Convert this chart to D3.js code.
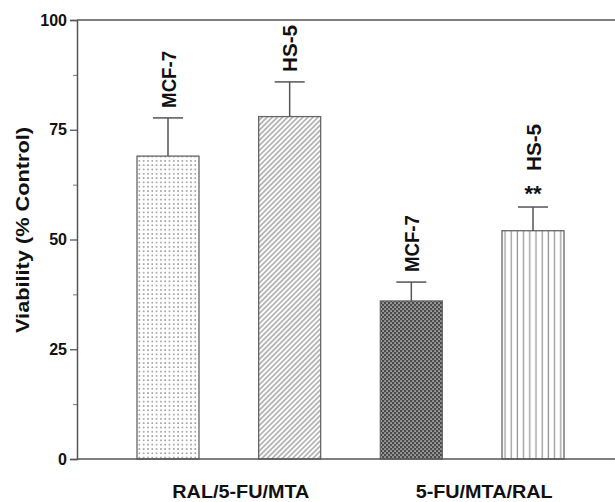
<!DOCTYPE html>
<html>
<head>
<meta charset="utf-8">
<script src="https://cdn.jsdelivr.net/npm/d3@7"></script>
<style>
  body { margin: 0; background: #fff; }
  text { font-family: "Liberation Sans", Arial, sans-serif; font-weight: bold; fill: #111; }
</style>
</head>
<body>
<svg id="chart" width="615" height="502"></svg>
<script>
// values
var groups = ["RAL/5-FU/MTA", "5-FU/MTA/RAL"];
var cells = ["MCF-7", "HS-5", "MCF-7", "HS-5"];
var means = [69, 78, 36, 52];
var errs = [8.7, 7.9, 4.3, 5.4];
var sig = ["", "", "", "**"];
var fills = ["dots", "diag", "checker", "vlines"];
var yTicks = [0, 25, 50, 75, 100];

var svg = d3.select("#chart");

var y = d3.scaleLinear().domain([0, 100]).range([459, 20]);
var x = d3.scalePoint().domain(d3.range(cells.length)).range([168, 533]);
var bw = 62;

// fill patterns
var defs = svg.append("defs");

var p = defs.append("pattern").attr("id", "dots").attr("patternUnits", "userSpaceOnUse")
  .attr("width", 4.3).attr("height", 4.3);
p.append("rect").attr("x", 1).attr("y", 1).attr("width", 1.6).attr("height", 1.6).attr("fill", "#999");

p = defs.append("pattern").attr("id", "diag").attr("patternUnits", "userSpaceOnUse")
  .attr("width", 3.6).attr("height", 10).attr("patternTransform", "rotate(45)");
p.append("line").attr("x1", 1.8).attr("x2", 1.8).attr("y1", 0).attr("y2", 10)
  .attr("stroke", "#999").attr("stroke-width", 1.3);

p = defs.append("pattern").attr("id", "checker").attr("patternUnits", "userSpaceOnUse")
  .attr("width", 4).attr("height", 4);
p.append("rect").attr("width", 4).attr("height", 4).attr("fill", "#4a4a4a");
p.append("rect").attr("x", 0.3).attr("y", 0.3).attr("width", 1.5).attr("height", 1.5).attr("fill", "#c8c8c8");
p.append("rect").attr("x", 2.3).attr("y", 2.3).attr("width", 1.5).attr("height", 1.5).attr("fill", "#c8c8c8");

p = defs.append("pattern").attr("id", "vlines").attr("patternUnits", "userSpaceOnUse")
  .attr("width", 6.2).attr("height", 10).attr("x", 502);
p.append("line").attr("x1", 3).attr("x2", 3).attr("y1", 0).attr("y2", 10)
  .attr("stroke", "#999").attr("stroke-width", 1.3);

// frame line on top
svg.append("line").attr("x1", 77).attr("x2", 615).attr("y1", y(100)).attr("y2", y(100))
  .attr("stroke", "#555").attr("stroke-width", 1.5);

// bars
var bars = svg.append("g").selectAll("g").data(means).enter().append("g");

bars.append("rect")
  .attr("x", function(d, i) { return x(i) - bw / 2; })
  .attr("y", function(d) { return y(d); })
  .attr("width", bw)
  .attr("height", function(d) { return y(0) - y(d); })
  .attr("fill", function(d, i) { return "url(#" + fills[i] + ")"; })
  .attr("stroke", "#666").attr("stroke-width", 1.3);

// error bars
bars.append("line")
  .attr("x1", function(d, i) { return x(i); })
  .attr("x2", function(d, i) { return x(i); })
  .attr("y1", function(d) { return y(d); })
  .attr("y2", function(d, i) { return y(d + errs[i]); })
  .attr("stroke", "#555").attr("stroke-width", 1.5);

bars.append("line")
  .attr("x1", function(d, i) { return x(i) - 15; })
  .attr("x2", function(d, i) { return x(i) + 15; })
  .attr("y1", function(d, i) { return y(d + errs[i]); })
  .attr("y2", function(d, i) { return y(d + errs[i]); })
  .attr("stroke", "#555").attr("stroke-width", 1.5);

// significance stars
bars.append("text")
  .attr("x", function(d, i) { return x(i); })
  .attr("y", function(d, i) { return y(d + errs[i]) - 6; })
  .attr("text-anchor", "middle")
  .attr("font-size", "22px")
  .text(function(d, i) { return sig[i]; });

// cell line labels, rotated
bars.append("text")
  .attr("transform", function(d, i) {
    var off = sig[i] ? 36 : 10;
    return "translate(" + (x(i) + 7.5) + "," + (y(d + errs[i]) - off) + ") rotate(-90)";
  })
  .attr("font-size", "20px")
  .attr("textLength", function(d, i) { return cells[i] == "MCF-7" ? 57 : 47; })
  .attr("lengthAdjust", "spacingAndGlyphs")
  .text(function(d, i) { return cells[i]; });

// y axis
var yAxis = d3.axisLeft(y).tickValues(yTicks).tickSize(7).tickPadding(3);
var ga = svg.append("g").attr("transform", "translate(77,0)").call(yAxis);
ga.select(".domain").attr("stroke", "#555").attr("stroke-width", 1.5);
ga.selectAll(".tick line").attr("stroke", "#555").attr("stroke-width", 1.3);
ga.selectAll(".tick text").attr("font-size", "16px").attr("font-family", "Liberation Sans, Arial, sans-serif")
  .attr("font-weight", "bold").attr("fill", "#111");

var minor = d3.axisLeft(y).tickValues([12.5, 37.5, 62.5, 87.5]).tickSize(4).tickFormat("");
var gm = svg.append("g").attr("transform", "translate(77,0)").call(minor);
gm.select(".domain").remove();
gm.selectAll(".tick line").attr("stroke", "#777").attr("stroke-width", 1);

// x axis line
svg.append("line").attr("x1", 77).attr("x2", 615).attr("y1", y(0)).attr("y2", y(0))
  .attr("stroke", "#555").attr("stroke-width", 1.5);

// group labels
svg.selectAll(".grp").data(groups).enter().append("text").attr("class", "grp")
  .attr("x", function(d, i) { return (x(2 * i) + x(2 * i + 1)) / 2 + 12; })
  .attr("y", 498)
  .attr("text-anchor", "middle")
  .attr("font-size", "18px")
  .attr("textLength", 137)
  .attr("lengthAdjust", "spacingAndGlyphs")
  .text(function(d) { return d; });

// y label
svg.append("text")
  .attr("transform", "translate(29,230) rotate(-90)")
  .attr("text-anchor", "middle")
  .attr("font-size", "19px")
  .attr("textLength", 206)
  .attr("lengthAdjust", "spacingAndGlyphs")
  .text("Viability (% Control)");
</script>
</body>
</html>
